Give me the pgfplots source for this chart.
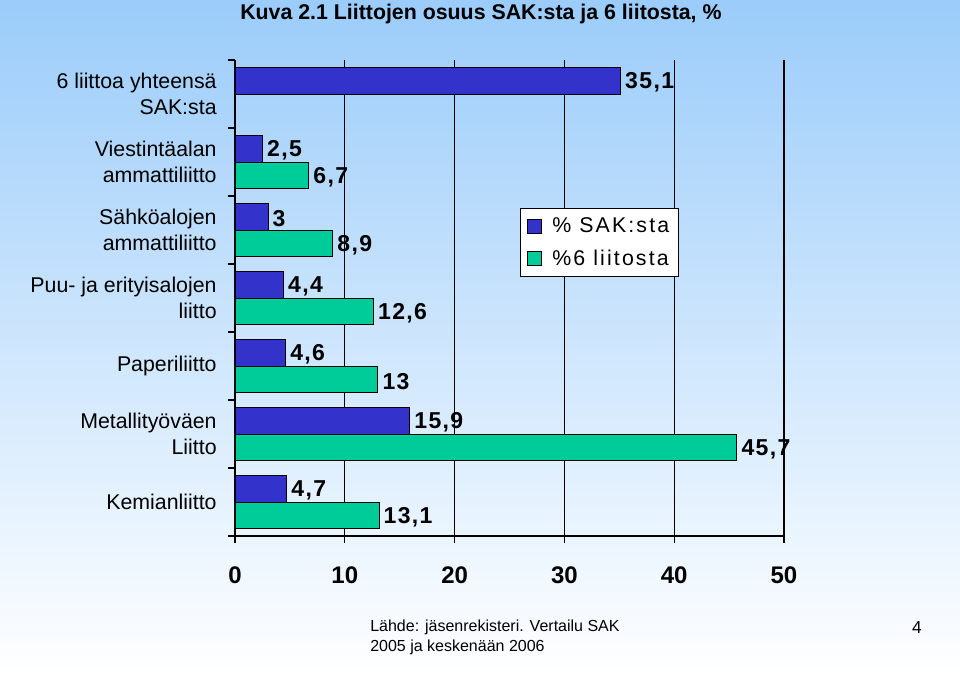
\documentclass[border=0pt]{standalone}
\usepackage{pgfplots}
\pgfplotsset{compat=1.18}
\usepackage{fontspec}
\setmainfont{Liberation Sans}
\newfontfamily\valfont{Liberation Sans}[LetterSpace=6]
\newfontfamily\legfont{Liberation Sans}[LetterSpace=10]
\definecolor{sakblue}{RGB}{51,51,204}
\definecolor{liitgreen}{RGB}{0,204,153}
\definecolor{bgtop}{RGB}{155,204,250}
\begin{document}
\begin{tikzpicture}
\useasboundingbox (0,0) rectangle (720pt,-506.25pt);
\shade[top color=bgtop, bottom color=white] (0,0) rectangle (720pt,-506.25pt);
\node[anchor=west, font=\bfseries\fontsize{16}{18}\selectfont, inner sep=0pt] at (180pt,-10.8pt) {Kuva 2.1 Liittojen osuus SAK:sta ja 6 liitosta, \%};
\begin{axis}[
  at={(176.25pt,-402pt)}, anchor=south west,
  scale only axis, width=411.75pt, height=357pt,
  xmin=0, xmax=50, ymin=-0.5, ymax=6.5, y dir=reverse,
  xbar, bar width=0.392, clip=false,
  axis x line*=bottom, axis y line*=left,
  axis line style={black, line width=0.8pt},
  xtick={0,10,...,50},
  xmajorgrids, grid style={black, line width=0.8pt},
  ytick={0,1,...,6},
  minor ytick={-0.5,0.5,1.5,2.5,3.5,4.5,5.5,6.5},
  every major y tick/.append style={draw=none},
  tick align=outside, major tick length=5.25pt, minor tick length=5.25pt,
  tick style={black, line width=0.8pt},
  yticklabels={{6 liittoa yhteensä\\SAK:sta},{Viestintäalan\\ammattiliitto},{Sähköalojen\\ammattiliitto},{Puu- ja erityisalojen\\liitto},{Paperiliitto},{Metallityöväen\\Liitto},{Kemianliitto}},
  yticklabel style={align=right, font=\fontsize{16}{19}\selectfont, xshift=-5pt},
  xticklabel style={font=\bfseries\fontsize{18}{20}\selectfont, yshift=-14.5pt},
  /pgf/number format/use comma,
  /pgf/number format/assume math mode=true,
  nodes near coords,
  every node near coord/.append style={font=\valfont\bfseries\fontsize{17.25}{19}\selectfont, black, yshift=-1.5pt},
  legend style={at={(axis cs:25.95,1.68)}, anchor=north west, draw=black, fill=white, line width=0.6pt,
    font=\legfont\fontsize{16}{18}\selectfont, row sep=7pt, inner xsep=5pt, inner ysep=5pt},
  legend cell align=left,
  legend image code/.code={\draw[#1,draw=black,line width=0.5pt] (0pt,-5pt) rectangle (10.5pt,5.5pt); \path (16.5pt,0pt);},
]
\addplot[fill=sakblue, draw=black, line width=0.5pt, bar shift=-0.196]
  coordinates {(35.1,0) (2.5,1) (3,2) (4.4,3) (4.6,4) (15.9,5) (4.7,6)};
\addplot[fill=liitgreen, draw=black, line width=0.5pt, bar shift=0.196]
  coordinates {(6.7,1) (8.9,2) (12.6,3) (13,4) (45.7,5) (13.1,6)};
\legend{\% SAK:sta, \%6 liitosta}
\end{axis}
\node[anchor=north west, align=left, font=\fontsize{12}{14.6}\selectfont, inner sep=0pt] at (277.5pt,-465pt) {Lähde: jäsenrekisteri. Vertailu SAK\\2005 ja keskenään 2006};
\node[font=\fontsize{13}{15}\selectfont, inner sep=0pt] at (687.75pt,-471pt) {4};
\end{tikzpicture}
\end{document}
